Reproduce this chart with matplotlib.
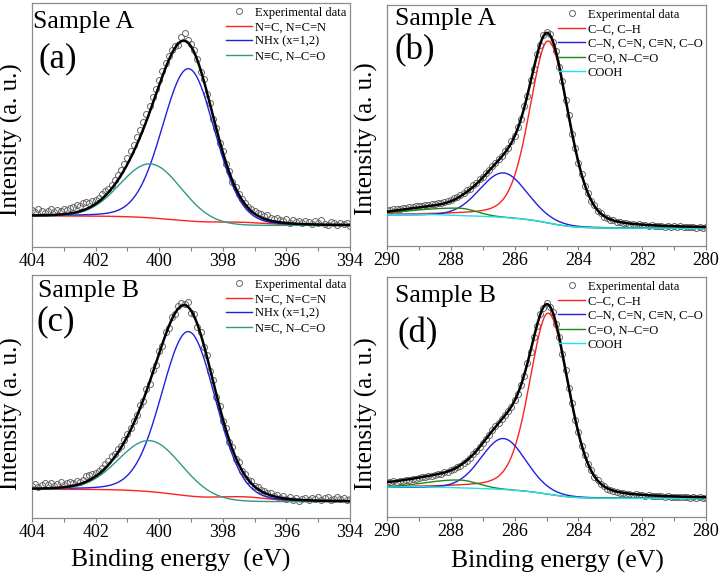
import numpy as np
import matplotlib
matplotlib.use("Agg")
import matplotlib.pyplot as plt
from matplotlib.lines import Line2D

plt.rcParams['font.family'] = ['Liberation Serif', 'DejaVu Serif']

# ---------------- data (intensities in arbitrary units) ----------------
n_labels = ["N=C, N=C=N", "NHx (x=1,2)", "N\u2261C, N\u2013C=O"]
c_labels = ["C\u2013C, C\u2013H", "C\u2013N, C=N, C\u2261N, C\u2013O", "C=O, N\u2013C=O", "COOH"]
n_ticks = [404, 402, 400, 398, 396, 394]
c_ticks = [290, 288, 286, 284, 282, 280]

# measurement grids (binding energy, eV)
n_energy = np.linspace(404, 394, 101)
c_energy = np.linspace(290, 280, 101)

# experimental data
a_exp = [37.5, 35.0, 38.5, 36.0, 34.5, 36.5, 38.0, 35.5, 37.0, 36.0, 38.5, 37.0, 39.5,
         40.0, 42.5, 41.0, 44.0, 45.5, 44.5, 46.0, 47.0, 49.5, 53.0, 56.0, 58.5, 62.0,
         67.0, 72.0, 77.0, 83.0, 89.0, 96.0, 102.0, 110.0, 117.0, 125.0, 133.0, 141.0, 150.0,
         158.0, 167.0, 176.0, 184.0, 191.0, 197.0, 201.5, 202.0, 210.0, 214.5, 207.0, 203.0, 197.5,
         188.5, 175.5, 168.5, 153.0, 144.5, 128.5, 119.0, 104.5, 96.0, 83.5, 76.5, 65.5, 60.5,
         53.5, 48.5, 44.0, 40.5, 38.5, 36.5, 34.0, 33.5, 31.0, 32.5, 29.5, 28.0, 29.5,
         27.0, 26.0, 28.0, 24.5, 27.5, 25.0, 26.5, 24.0, 26.0, 25.5, 23.5, 26.5, 24.0,
         27.0, 23.5, 22.5, 25.0, 24.5, 22.0, 24.0, 23.0, 24.5, 21.5]
b_exp = [36.5, 36.0, 37.0, 37.5, 37.0, 38.5, 38.0, 39.5, 39.0, 40.0, 40.5, 40.0, 41.5,
         41.0, 42.5, 42.0, 43.5, 43.0, 44.5, 45.5, 46.0, 48.0, 49.0, 51.5, 53.0, 56.0,
         57.5, 61.0, 63.0, 67.0, 69.0, 73.5, 76.0, 80.5, 83.0, 87.5, 90.0, 95.5, 98.5,
         105.0, 110.0, 119.5, 127.0, 140.0, 150.5, 166.0, 177.5, 192.5, 201.5, 211.5, 214.5, 212.5,
         204.0, 195.5, 179.0, 165.5, 146.0, 131.0, 112.0, 98.5, 83.0, 72.5, 60.5, 53.5, 45.0,
         41.0, 35.5, 33.0, 29.5, 28.5, 26.5, 26.0, 24.5, 24.5, 23.0, 23.5, 22.5, 22.5,
         21.5, 22.0, 21.0, 21.5, 20.5, 21.0, 20.5, 20.0, 20.5, 19.5, 20.5, 19.5, 20.0,
         19.5, 20.0, 19.0, 19.5, 19.0, 19.5, 18.5, 19.5, 18.5, 19.0]
c_exp = [32.0, 34.5, 31.5, 33.0, 35.5, 33.5, 35.0, 32.5, 34.5, 36.0, 33.5, 35.0, 36.5,
         35.5, 37.0, 36.0, 38.0, 42.5, 43.5, 44.0, 45.0, 47.5, 50.5, 54.0, 57.5, 62.0,
         64.5, 69.0, 72.5, 78.5, 84.0, 90.0, 97.0, 103.0, 113.5, 117.0, 129.5, 134.0, 148.0,
         153.5, 167.0, 172.5, 186.0, 190.0, 201.0, 204.5, 212.0, 215.5, 214.0, 216.0, 205.5, 204.0,
         191.5, 186.5, 171.5, 163.0, 147.0, 138.0, 121.5, 112.5, 97.5, 90.0, 76.5, 71.0, 59.5,
         56.0, 47.0, 44.5, 38.5, 37.0, 32.0, 31.5, 28.0, 27.5, 25.0, 25.5, 22.5, 23.0,
         20.5, 22.0, 19.5, 21.0, 18.5, 20.5, 17.5, 19.5, 20.5, 18.0, 20.0, 19.0, 21.5,
         18.5, 20.0, 21.0, 18.5, 19.5, 21.5, 19.0, 20.5, 18.0, 19.5]
d_exp = [35.5, 35.0, 36.0, 35.5, 36.5, 36.5, 37.5, 37.5, 38.5, 38.5, 39.5, 40.0, 40.5,
         41.5, 41.5, 42.5, 43.0, 43.5, 45.0, 45.5, 47.0, 48.0, 50.0, 51.5, 54.5, 56.5,
         59.5, 63.0, 66.5, 70.5, 74.5, 78.5, 82.5, 87.0, 91.0, 94.5, 98.5, 102.0, 106.5,
         110.0, 117.0, 123.0, 132.5, 141.0, 154.5, 165.0, 180.0, 191.0, 203.0, 209.0, 214.0, 210.0,
         205.0, 193.0, 180.5, 163.0, 147.5, 129.0, 114.0, 97.5, 85.0, 71.5, 62.5, 53.0, 47.0,
         40.5, 37.0, 33.0, 31.0, 28.5, 27.5, 26.0, 25.5, 24.5, 24.5, 23.5, 23.5, 22.5,
         23.0, 22.0, 22.5, 21.5, 22.0, 21.0, 21.5, 21.0, 21.5, 20.5, 21.0, 20.5, 20.5,
         20.0, 20.5, 20.0, 20.5, 19.5, 20.0, 19.5, 20.0, 19.5, 19.5]

# fitted components: centre (eV), height, FWHM high-BE side, FWHM low-BE side, Lorentz fraction
a_center = [397.5, 399.07, 400.27]
a_height = [3.0, 153.0, 54.0]
a_fwhm_hi = [2.2, 1.95, 2.25]
a_fwhm_lo = [2.2, 1.95, 2.25]
a_eta = [0.0, 0.1, 0.0]
a_bg = [31.0, 21.5, 31.0]      # background: high-BE end, low-BE end, envelope high-BE end

b_center = [284.94, 286.35, 287.75, 289.0]
b_height = [182.0, 44.5, 7.5, 1.0]
b_fwhm_hi = [1.4, 1.75, 3.5, 1.5]
b_fwhm_lo = [1.5, 1.75, 1.3, 1.5]
b_eta = [0.3, 0.1, 0.0, 0.0]
b_bg = [31.0, 17.7, 30.5]

c_center = [397.4, 399.07, 400.29]
c_height = [4.5, 165.0, 51.0]
c_fwhm_hi = [2.0, 2.0, 2.3]
c_fwhm_lo = [2.0, 2.0, 2.3]
c_eta = [0.0, 0.1, 0.0]
c_bg = [28.7, 16.3, 28.7]

d_center = [284.94, 286.35, 287.75, 289.0]
d_height = [181.0, 51.0, 8.0, 1.0]
d_fwhm_hi = [1.4, 1.65, 2.5, 1.5]
d_fwhm_lo = [1.5, 1.65, 1.4, 1.5]
d_eta = [0.3, 0.1, 0.0, 0.0]
d_bg = [29.5, 18.5, 32.5]


def pv(E, c, h, fhi, flo, eta):
    f = np.where(E >= c, fhi, flo)
    x = (E - c) / f
    return h * ((1 - eta) * np.exp(-4 * np.log(2) * x ** 2) + eta / (1 + 4 * x ** 2))


def shirley(E, total, lo, hi):
    order = np.argsort(E)
    cs = np.cumsum(total[order])
    frac = np.empty_like(E)
    frac[order] = cs / cs[-1]
    return lo + (hi - lo) * frac


W, H = 723, 579
fig = plt.figure(figsize=(W / 100, H / 100), dpi=100)


def ax_at(l, t, r, b):
    return fig.add_axes([l / W, 1 - b / H, (r - l) / W, (b - t) / H])

n_colors = ['#ff2020', '#2020e0', '#2e9a88']
c_colors = ['#ff2020', '#2020e0', '#1a8a1a', '#20e0e8']

panels = [
    dict(box=(32, 3, 350, 247), ex=n_energy, ey=a_exp, ticks=n_ticks, cen=a_center, hgt=a_height,
         fh=a_fwhm_hi, fl=a_fwhm_lo, eta=a_eta, bg=a_bg, labels=n_labels, colors=n_colors),
    dict(box=(387, 5, 706, 246), ex=c_energy, ey=b_exp, ticks=c_ticks, cen=b_center, hgt=b_height,
         fh=b_fwhm_hi, fl=b_fwhm_lo, eta=b_eta, bg=b_bg, labels=c_labels, colors=c_colors),
    dict(box=(32, 275, 350, 518), ex=n_energy, ey=c_exp, ticks=n_ticks, cen=c_center, hgt=c_height,
         fh=c_fwhm_hi, fl=c_fwhm_lo, eta=c_eta, bg=c_bg, labels=n_labels, colors=n_colors),
    dict(box=(387, 277, 706, 517), ex=c_energy, ey=d_exp, ticks=c_ticks, cen=d_center, hgt=d_height,
         fh=d_fwhm_hi, fl=d_fwhm_lo, eta=d_eta, bg=d_bg, labels=c_labels, colors=c_colors),
]

for p in panels:
    l, t, r, b = p['box']
    ax = ax_at(l, t, r, b)
    hi_e, lo_e = max(p['ticks']), min(p['ticks'])
    E = np.linspace(lo_e, hi_e, 2001)
    peaks = [pv(E, c, h, f1, f2, et) for c, h, f1, f2, et in
             zip(p['cen'], p['hgt'], p['fh'], p['fl'], p['eta'])]
    total = np.sum(peaks, axis=0)
    bg = shirley(E, total, p['bg'][1], p['bg'][0])
    envbg = shirley(E, total, p['bg'][1], p['bg'][2])
    ax.plot(p['ex'], p['ey'], 'o', mfc='none', mec='#666666', ms=4.3, mew=0.7, zorder=2)
    for pk, col in zip(peaks, p['colors']):
        ax.plot(E, bg + pk, color=col, lw=1.0, zorder=3)
    ax.plot(E, envbg + total, color='black', lw=1.8, zorder=4)
    ax.set_xlim(hi_e, lo_e)
    ax.set_ylim(0, b - t)
    ax.set_yticks([])
    ax.set_xticks(p['ticks'])
    ax.set_xticks(np.arange(lo_e, hi_e + 0.1, 1), minor=True)
    ax.tick_params(axis='x', which='both', direction='out', length=3, width=0.8, color='#808080',
                   labelsize=13, pad=1)
    for s in ax.spines.values():
        s.set_color('#8c8c8c')
        s.set_linewidth(0.9)
    handles = [Line2D([], [], ls='none', marker='o', mfc='none', mec='#666666', ms=4.3, mew=0.7)]
    handles += [Line2D([], [], color=col, lw=1.0) for col in p['colors']]
    ax.legend(handles, ['Experimental data'] + p['labels'], loc='upper right', bbox_to_anchor=(1.0, 1.0),
              frameon=False, fontsize=9, handlelength=2.15, handletextpad=0.2, labelspacing=0.2,
              borderaxespad=0.1, borderpad=0.2)


def ftext(x, y, s, **kw):
    fig.text(x / W, 1 - y / H, s, **kw)

ftext(33, 28, "Sample A", fontsize=18.5, va='baseline')
ftext(38, 67, "(a)", fontsize=25, va='baseline')
ftext(395, 25, "Sample A", fontsize=18.5, va='baseline')
ftext(395, 59, "(b)", fontsize=25, va='baseline')
ftext(38, 297, "Sample B", fontsize=18.5, va='baseline')
ftext(37, 330, "(c)", fontsize=25, va='baseline')
ftext(395, 302, "Sample B", fontsize=18.5, va='baseline')
ftext(397, 342, "(d)", fontsize=25, va='baseline')

for x, y in [(11, 140), (366, 139), (11, 414), (366, 414)]:
    ftext(x, y, "Intensity (a. u.)", fontsize=18, rotation=90, ha='center', va='center')

ftext(181, 567, "Binding energy  (eV)", fontsize=18.5, ha='center', va='baseline')
ftext(557, 568, "Binding energy (eV)", fontsize=18.5, ha='center', va='baseline')

fig.savefig('out.png', dpi=100)
